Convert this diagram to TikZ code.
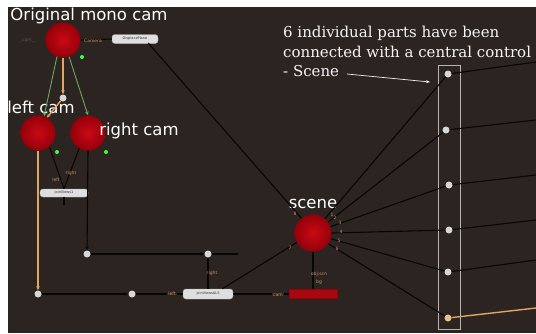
\documentclass[tikz,border=0pt]{standalone}
\usepackage{fontspec}
\setmainfont{DejaVu Serif}
\newfontfamily\labfont{DejaVu Sans}
\usetikzlibrary{arrows.meta}
\definecolor{bgc}{RGB}{44,36,33}
\definecolor{redin}{RGB}{200,10,20}
\definecolor{redout}{RGB}{150,0,10}
\definecolor{wire}{RGB}{8,5,5}
\definecolor{orng}{RGB}{225,165,95}
\definecolor{grn}{RGB}{110,165,95}
\definecolor{tan}{RGB}{200,150,95}
\definecolor{dotc}{RGB}{215,215,215}
\definecolor{frame}{RGB}{185,180,178}
\tikzset{
  camnode/.style={circle,minimum size=35pt,inner sep=0pt,inner color=redin,outer color=redout},
  pipe/.style={circle,minimum size=7pt,inner sep=0pt,fill=dotc},
  smalldot/.style={circle,minimum size=4pt,inner sep=0pt,fill=green!75!white},
  toolbox/.style={rounded corners=3pt,minimum height=9pt,inner sep=0pt,fill=gray!25!white,draw=gray!60!white,font=\labfont\fontsize{3.5}{4}\selectfont,text=gray!40!black},
  wirel/.style={draw=wire,line width=1.1pt},
  orl/.style={draw=orng,line width=1.4pt},
  grl/.style={draw=grn,line width=0.9pt},
  tip/.style={-{Stealth[length=4pt,width=3.5pt]}},
  lab/.style={font=\labfont\fontsize{4.5}{5}\selectfont,text=tan,inner sep=0pt},
  bigtxt/.style={font=\labfont\fontsize{16.5}{18}\selectfont,text=white,inner sep=0pt},
}
\begin{document}
\begin{tikzpicture}[x=1pt,y=-1pt]
\useasboundingbox (0,0) rectangle (536,333);
\fill[white] (0,0) rectangle (536,333);
\fill[bgc] (8,7) rectangle (536,333);

% nodes
\node[camnode] (orig) at (63,40) {};
\node[camnode] (lcam) at (38,133) {};
\node[camnode] (rcam) at (88,133) {};
\node[camnode,minimum size=37pt] (scene) at (313,233) {};
\node[toolbox,minimum width=46pt] (disp) at (135,39) {DisplacePlane};
\node[toolbox,minimum width=48pt,minimum height=8pt] (jv1) at (64,193) {joinViews1};
\node[toolbox,minimum width=50pt,minimum height=10pt] (jvals) at (208,294) {joinViewsALS};
\node[rectangle,minimum width=48pt,minimum height=9pt,inner sep=0pt,fill=redin!85!black,draw=redout] (render) at (313,294) {};

\node[pipe] (mid) at (63,98) {};
\node[pipe] (dl) at (38,294) {};
\node[pipe] (dlm) at (132,294) {};
\node[pipe] (dr) at (87,254) {};
\node[pipe] (drm) at (208,254) {};

\node[smalldot] (g0) at (82,57) {};
\node[smalldot] (g1) at (57,152) {};
\node[smalldot] (g2) at (106,152) {};

% right-hand control box
\draw[frame,line width=0.8pt] (438,65) rectangle (460,329);
\node[pipe] (p1) at (448,74) {};
\node[pipe] (p2) at (446,130) {};
\node[pipe] (p3) at (449,185) {};
\node[pipe] (p4) at (449,230) {};
\node[pipe] (p5) at (448,272) {};
\node[pipe,fill=orng!70!white] (p6) at (448,318) {};
\coordinate (e1) at (536,62);
\coordinate (e2) at (536,120);
\coordinate (e3) at (536,175);
\coordinate (e4) at (536,220);
\coordinate (e5) at (536,260);
\coordinate (e6) at (536,308);

% texts
\node[bigtxt] (t0) at (89,16) {Original mono cam};
\node[bigtxt] (t1) at (41,107) {left cam};
\node[bigtxt] (t2) at (139,131) {right cam};
\node[bigtxt] (t3) at (313,204) {scene};
\node[font=\fontsize{15}{19.5}\selectfont,text=white!92!gray,align=left,inner sep=0pt,anchor=north west] (note) at (283,26)
  {6 individual parts have been\\connected with a central control\\- Scene};
\coordinate (notee) at (347,74);
\coordinate (notet) at (430,82);

% wires top
\draw[orl,tip] (orig.south) -- (mid);
\draw[grl,tip] (orig.-110) -- (lcam.70);
\draw[grl,tip] (orig.-70) -- (rcam.90);
\draw[orl,tip] (mid) -- (lcam.60);
\draw[wirel] (orig.east) -- (disp.west);
\node[lab] (camlab) at (93,41) {Camera};
\node[lab,text=gray!70!black] (inlab) at (28,41) {\_cam\_\_};
\draw[wirel] (lcam.-50) -- (jv1.north);
\draw[wirel] (rcam.-120) -- (jv1.north);
\node[lab] (ll1) at (56,180) {left};
\node[lab] (rl1) at (71,173) {right};
\coordinate (jv1s) at (64,205);
\draw[wirel] (jv1.south) -- (jv1s);

% wires down
\draw[orl,tip] (lcam.south) -- (dl);
\draw[wirel,tip] (rcam.south) -- (dr);
\draw[wirel,tip] (dr) -- (drm);
\coordinate (drx) at (238,254);
\draw[wirel] (drm) -- (drx);
\draw[wirel] (drm) -- (jvals.north);
\node[lab] (rl2) at (212,273) {right};
\draw[wirel,tip] (dl) -- (dlm);
\draw[wirel] (dlm) -- (jvals.west);
\node[lab,fill=bgc,inner sep=1pt] (ll2) at (172,294) {left};
\draw[wirel] (jvals.east) -- (render.west);
\node[lab,fill=bgc,inner sep=1pt] (caml) at (278,295) {cam};
\draw[wirel] (jvals.20) -- (scene.-150);
\draw[wirel] (scene.south) -- (render.north);
\node[lab] (obl) at (319,274) {obj:scn};
\node[lab] (bgl) at (319,282) {bg};
\draw[wirel] (disp.east) ++(-10,4) -- (scene.128);

% scene inputs
\draw[wirel] (p1) -- (scene.50);
\draw[wirel] (p2) -- (scene.36);
\draw[wirel] (p3) -- (scene.20);
\draw[wirel] (p4) -- (scene.0);
\draw[wirel] (p5) -- (scene.-18);
\draw[wirel] (p6) -- (scene.-35);
\node[lab] (n8) at (295,214) {8};
\node[lab] (n1) at (332,215) {1};
\node[lab] (n2) at (335,218) {2};
\node[lab] (n3) at (340,223) {3};
\node[lab] (n4) at (341,232) {4};
\node[lab] (n5) at (339,241) {5};
\node[lab] (n6) at (337,249) {6};
\node[lab] (n7) at (290,248) {7};

% outgoing
\draw[wirel] (p1) -- (e1);
\draw[wirel] (p2) -- (e2);
\draw[wirel] (p3) -- (e3);
\draw[wirel] (p4) -- (e4);
\draw[wirel] (p5) -- (e5);
\draw[orl] (p6) -- (e6);

% annotation arrow
\draw[white!90!gray,line width=0.7pt,-{Stealth[length=4pt,width=3pt]}] (notee) -- (notet);
\end{tikzpicture}
\end{document}
